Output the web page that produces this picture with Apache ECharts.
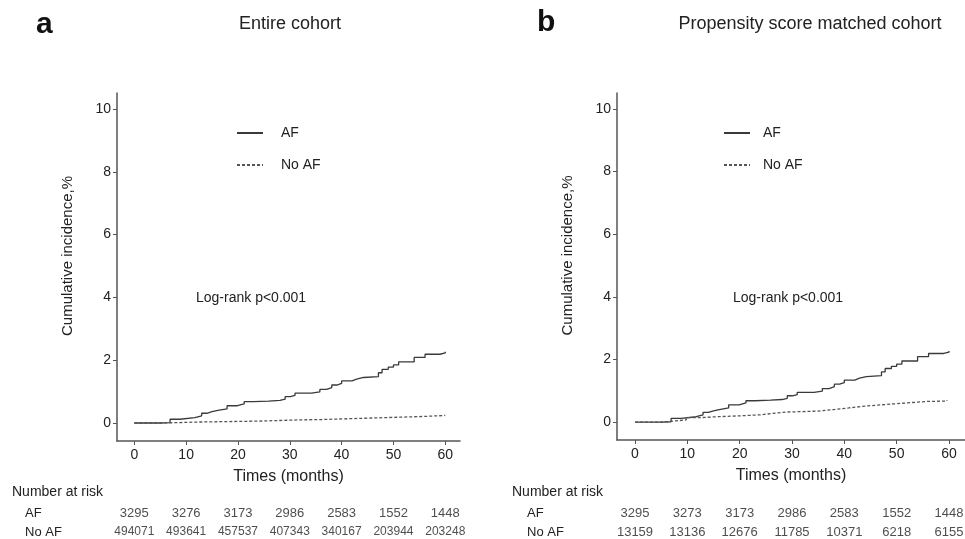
<!DOCTYPE html>
<html>
<head>
<meta charset="utf-8">
<script src="https://cdn.jsdelivr.net/npm/echarts@6/dist/echarts.min.js"></script>
<style>
  html, body { margin: 0; padding: 0; background: #fff; }
  #main { width: 965px; height: 539px; }
</style>
</head>
<body>
<div id="main"></div>
<script>
// ticks
var timeTicks = [0, 10, 20, 30, 40, 50, 60];
var yTicks = [0, 2, 4, 6, 8, 10];

// cumulative incidence (%) step points: [month, value]
var afCumInc = [[0,0],[5,0.01],[6.9,0.12],[8.8,0.17],[11.7,0.23],[13,0.31],[14,0.36],[15,0.4],[16.1,0.45],
  [17.9,0.55],[19.9,0.61],[21.2,0.68],[23,0.7],[25.9,0.72],[28.1,0.76],[29.1,0.84],[30.1,0.88],[31,0.95],
  [34.2,0.99],[35.8,1.07],[37.1,1.13],[38.1,1.21],[39.1,1.26],[40,1.34],[42,1.4],[42.9,1.45],[44.2,1.48],
  [47.1,1.6],[47.8,1.71],[49,1.78],[50,1.85],[51,1.95],[54,2.09],[56.1,2.19],[59,2.23],[60,2.27]];
var noAfEntire = [[0,0],[5,0.01],[8,0.03],[12,0.04],[16,0.05],[20,0.06],[24,0.08],[28,0.1],[32,0.11],
  [36,0.13],[40,0.15],[44,0.17],[48,0.19],[52,0.21],[56,0.24],[60,0.26]];
var noAfMatched = [[0,0],[4.8,0.02],[6.7,0.07],[9.8,0.14],[12.4,0.17],[15.6,0.2],[20.1,0.23],[23.9,0.27],
  [26,0.32],[29,0.35],[35,0.4],[38,0.45],[40.8,0.51],[44,0.55],[47,0.58],[49.4,0.62],[52.6,0.66],[56,0.67],[59.6,0.7]];

// number at risk
var riskAfEntire = [3295, 3276, 3173, 2986, 2583, 1552, 1448];
var riskNoAfEntire = [494071, 493641, 457537, 407343, 340167, 203944, 203248];
var riskAfMatched = [3295, 3273, 3173, 2986, 2583, 1552, 1448];
var riskNoAfMatched = [13159, 13136, 12676, 11785, 10371, 6218, 6155];

var FONT = 'Liberation Sans, Arial, sans-serif';
var axisColor = '#555';
var afColor = '#3a3a3a';
var noAfColor = '#555';

function riskRows(afRow, noAfRow) {
  var out = [];
  for (var i = 0; i < timeTicks.length; i++) {
    out.push([timeTicks[i], 'AF', afRow[i]]);
  }
  for (var j = 0; j < timeTicks.length; j++) {
    out.push([timeTicks[j], 'No AF', noAfRow[j]]);
  }
  return out;
}

function mainX(idx, mn, mx) {
  return {
    gridIndex: idx, type: 'value', min: mn, max: mx,
    name: 'Times (months)', nameLocation: 'middle', nameGap: 28,
    nameTextStyle: { fontSize: 16, color: '#222' },
    axisLine: { show: true, onZero: false, lineStyle: { color: axisColor, width: 1.5 } },
    axisTick: { show: true, length: 4, customValues: timeTicks, lineStyle: { color: axisColor } },
    axisLabel: { customValues: timeTicks, fontSize: 14, color: '#222', margin: 7 },
    splitLine: { show: false }
  };
}
function mainY(idx) {
  return {
    gridIndex: idx, type: 'value', min: -0.573, max: 10.51,
    name: 'Cumulative incidence,%', nameLocation: 'middle', nameGap: 42,
    nameTextStyle: { fontSize: 15, color: '#222', padding: [0, 0, 0, 22] },
    axisLine: { show: true, onZero: false, lineStyle: { color: axisColor, width: 1.5 } },
    axisTick: { show: true, length: 4, customValues: yTicks, lineStyle: { color: axisColor } },
    axisLabel: { customValues: yTicks, fontSize: 14, color: '#222', margin: 6 },
    splitLine: { show: false }
  };
}
function tableX(idx, mn, mx) {
  return { gridIndex: idx, type: 'value', min: mn, max: mx, show: false };
}
function tableY(idx, margin) {
  return {
    gridIndex: idx, type: 'category', data: ['AF', 'No AF'], inverse: true,
    axisLine: { show: false }, axisTick: { show: false },
    axisLabel: { align: 'left', margin: margin, fontSize: 13, color: '#222' }
  };
}
function legendAt(left, textGap) {
  return {
    left: left, top: 126, padding: 0, orient: 'vertical', itemWidth: 26, itemHeight: 14, itemGap: 18,
    data: ['AF', 'No AF'], selectedMode: false,
    itemStyle: { opacity: 0 },
    textStyle: { fontSize: 14, color: '#222', padding: [0, 0, 0, textGap] }
  };
}
function curve(name, xi, data, color, dashed) {
  return {
    name: name, type: 'line', xAxisIndex: xi, yAxisIndex: xi, data: data, step: 'end',
    symbol: 'none', silent: true, color: color,
    lineStyle: { color: color, width: 1.3, type: dashed ? [3, 2] : 'solid' }
  };
}
function riskSeries(xi, rows, fsAf, fsNoAf) {
  return {
    type: 'scatter', xAxisIndex: xi, yAxisIndex: xi, data: rows,
    symbolSize: 1, itemStyle: { color: 'transparent' }, silent: true,
    label: {
      show: true, position: 'inside', color: '#222', fontSize: fsAf,
      formatter: function (p) { return p.value[2]; }
    },
    labelLayout: function (p) {
      return { fontSize: p.dataIndex >= timeTicks.length ? fsNoAf : fsAf };
    }
  };
}

var myChart = echarts.init(document.getElementById('main'));

var option = {
  animation: false,
  backgroundColor: '#fff',
  textStyle: { fontFamily: FONT },
  grid: [
    { left: 117, top: 93, width: 343, height: 348, outerBoundsMode: 'none' },
    { left: 617, top: 93, width: 348, height: 347, outerBoundsMode: 'none' },
    { left: 117, top: 503.5, width: 343, height: 38, outerBoundsMode: 'none' },
    { left: 617, top: 503.5, width: 348, height: 38, outerBoundsMode: 'none' }
  ],
  xAxis: [
    mainX(0, -3.34, 62.84),
    mainX(1, -3.44, 63.06),
    tableX(2, -3.34, 62.84),
    tableX(3, -3.44, 63.06)
  ],
  yAxis: [
    mainY(0),
    mainY(1),
    tableY(2, 92),
    tableY(3, 90)
  ],
  legend: [legendAt(236, 13), legendAt(723, 8)],
  graphic: [
    { type: 'text', x: 36, y: 25, style: { text: 'a', font: 'bold 30px ' + FONT, fill: '#111', verticalAlign: 'middle' } },
    { type: 'text', x: 290, y: 24, style: { text: 'Entire cohort', font: '18px ' + FONT, fill: '#222', align: 'center', verticalAlign: 'middle' } },
    { type: 'text', x: 537, y: 23, style: { text: 'b', font: 'bold 30px ' + FONT, fill: '#111', verticalAlign: 'middle' } },
    { type: 'text', x: 810, y: 24, style: { text: 'Propensity score matched cohort', font: '18px ' + FONT, fill: '#222', align: 'center', verticalAlign: 'middle' } },
    { type: 'text', x: 196, y: 298, style: { text: 'Log-rank p<0.001', font: '14px ' + FONT, fill: '#222', verticalAlign: 'middle' } },
    { type: 'text', x: 733, y: 298, style: { text: 'Log-rank p<0.001', font: '14px ' + FONT, fill: '#222', verticalAlign: 'middle' } },
    { type: 'text', x: 12, y: 492, style: { text: 'Number at risk', font: '14px ' + FONT, fill: '#222', verticalAlign: 'middle' } },
    { type: 'text', x: 512, y: 492, style: { text: 'Number at risk', font: '14px ' + FONT, fill: '#222', verticalAlign: 'middle' } }
  ],
  series: [
    curve('AF', 0, afCumInc, afColor, false),
    curve('No AF', 0, noAfEntire, noAfColor, true),
    curve('AF', 1, afCumInc, afColor, false),
    curve('No AF', 1, noAfMatched, noAfColor, true),
    riskSeries(2, riskRows(riskAfEntire, riskNoAfEntire), 13, 12),
    riskSeries(3, riskRows(riskAfMatched, riskNoAfMatched), 13, 13)
  ]
};

myChart.setOption(option);
</script>
</body>
</html>
